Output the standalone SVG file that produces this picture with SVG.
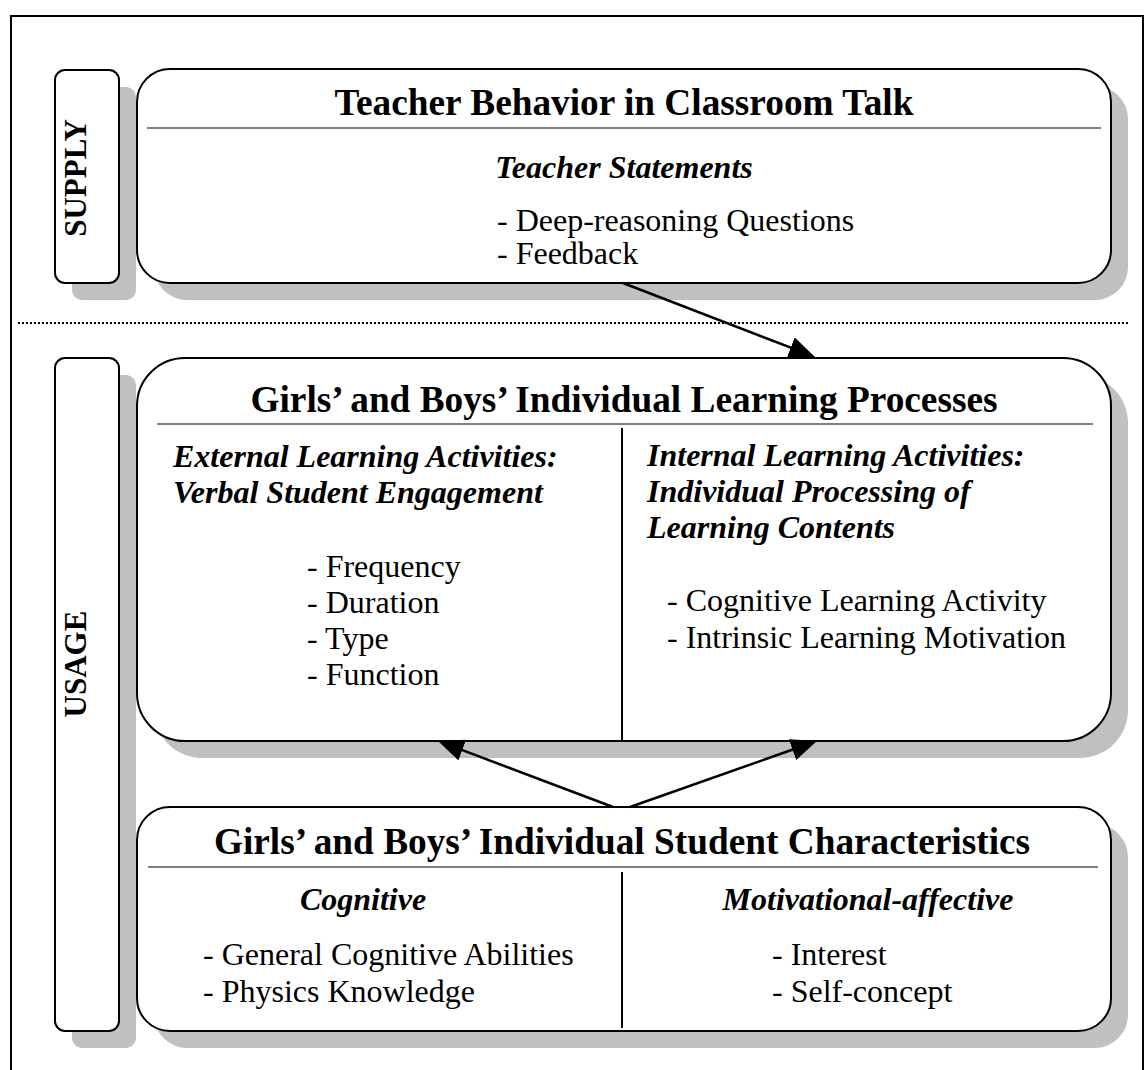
<svg xmlns="http://www.w3.org/2000/svg" width="1145" height="1070" viewBox="0 0 1145 1070">
  <style>
    .box { fill: #ffffff; stroke: #000000; stroke-width: 2; }
    .shadow { fill: #c0c0c0; stroke: none; }
    .rule { stroke: #808080; stroke-width: 2; }
    .divider { stroke: #000000; stroke-width: 2; }
    .title { font-family: "Liberation Serif", "Times New Roman", serif; font-weight: bold; font-size: 37.3px; text-anchor: middle; fill: #000; }
    .side { font-family: "Liberation Serif", "Times New Roman", serif; font-weight: bold; font-size: 31px; text-anchor: middle; fill: #000; }
    .sub { font-family: "Liberation Serif", "Times New Roman", serif; font-weight: bold; font-style: italic; font-size: 32px; fill: #000; }
    .item { font-family: "Liberation Serif", "Times New Roman", serif; font-size: 32px; fill: #000; }
    .mid { text-anchor: middle; }
    .conn { stroke: #000000; stroke-width: 2.5; fill: none; marker-end: url(#head); }
  </style>
  <defs>
    <marker id="head" markerUnits="userSpaceOnUse" viewBox="0 0 26 22" markerWidth="26" markerHeight="22" refX="14" refY="11" orient="auto">
      <path d="M0,0 L26,11 L0,22 Z" fill="#000000"/>
    </marker>
  </defs>

  <rect width="1145" height="1070" fill="#ffffff"/>

  <!-- outer frame -->
  <path d="M11,1072 V16 H1143 V1072" fill="none" stroke="#000000" stroke-width="2"/>

  <!-- boundary between supply and usage -->
  <line x1="18" y1="323" x2="1128" y2="323" stroke="#000000" stroke-width="2" stroke-dasharray="2,2"/>

  <!-- side labels -->
  <g id="supply-label">
    <rect class="shadow" x="72" y="87" width="64" height="213" rx="10"/>
    <rect class="box" x="55" y="70" width="64" height="213" rx="10"/>
    <text class="side" transform="translate(86,178) rotate(-90)">SUPPLY</text>
  </g>

  <g id="usage-label">
    <rect class="shadow" x="72" y="375" width="64" height="673" rx="10"/>
    <rect class="box" x="55" y="358" width="64" height="673" rx="10"/>
    <text class="side" transform="translate(86,664) rotate(-90)">USAGE</text>
  </g>

  <!-- teacher behavior -->
  <g id="teacher-behavior">
    <rect class="shadow" x="154" y="86" width="974" height="214" rx="33"/>
    <rect class="box" x="137" y="69" width="974" height="214" rx="33"/>
    <text class="title" x="624" y="115">Teacher Behavior in Classroom Talk</text>
    <line class="rule" x1="147" y1="128" x2="1101" y2="128"/>
    <text class="sub mid" x="624" y="178">Teacher Statements</text>
    <text class="item" x="497" y="231">- Deep-reasoning Questions</text>
    <text class="item" x="497" y="264">- Feedback</text>
  </g>

  <!-- individual learning processes -->
  <g id="learning-processes">
    <rect class="shadow" x="154" y="375" width="974" height="383" rx="48"/>
    <rect class="box" x="137" y="358" width="974" height="383" rx="48"/>
    <text class="title" x="624" y="412">Girls’ and Boys’ Individual Learning Processes</text>
    <line class="rule" x1="157" y1="424" x2="1093" y2="424"/>
    <line class="divider" x1="622" y1="428" x2="622" y2="741"/>
    <text class="sub" x="173" y="467">External Learning Activities:</text>
    <text class="sub" x="173" y="503">Verbal Student Engagement</text>
    <text class="item" x="307" y="577">- Frequency</text>
    <text class="item" x="307" y="613">- Duration</text>
    <text class="item" x="307" y="649">- Type</text>
    <text class="item" x="307" y="685">- Function</text>
    <text class="sub" x="647" y="466">Internal Learning Activities:</text>
    <text class="sub" x="647" y="502">Individual Processing of</text>
    <text class="sub" x="647" y="538">Learning Contents</text>
    <text class="item" x="667" y="611">- Cognitive Learning Activity</text>
    <text class="item" x="667" y="648">- Intrinsic Learning Motivation</text>
  </g>

  <!-- individual student characteristics -->
  <g id="student-characteristics">
    <rect class="shadow" x="154" y="824" width="974" height="224" rx="33"/>
    <rect class="box" x="137" y="807" width="974" height="224" rx="33"/>
    <text class="title" x="622" y="854">Girls’ and Boys’ Individual Student Characteristics</text>
    <line class="rule" x1="148" y1="867" x2="1098" y2="867"/>
    <line class="divider" x1="622" y1="872" x2="622" y2="1028"/>
    <text class="sub mid" x="363" y="910">Cognitive</text>
    <text class="item" x="203" y="965">- General Cognitive Abilities</text>
    <text class="item" x="203" y="1002">- Physics Knowledge</text>
    <text class="sub mid" x="868" y="910">Motivational-affective</text>
    <text class="item" x="772" y="965">- Interest</text>
    <text class="item" x="772" y="1002">- Self-concept</text>
  </g>

  <!-- connectors -->
  <g id="connectors">
    <path class="conn" d="M623,283 L803.8,352.7"/>
    <path class="conn" d="M613,807 L449.2,745.2"/>
    <path class="conn" d="M630,807 L805.7,745"/>
  </g>
</svg>
